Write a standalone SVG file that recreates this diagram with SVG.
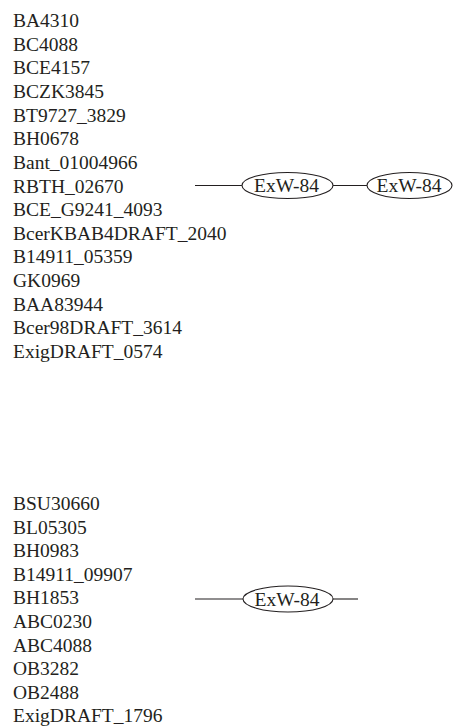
<svg xmlns="http://www.w3.org/2000/svg" width="453" height="728" viewBox="0 0 453 728">
<style>
.t{font-family:"Liberation Serif","Times New Roman",serif;font-size:19.5px;fill:#231f20}
.n{fill:#fff;stroke:#231f20;stroke-width:1.1}
.c{stroke:#231f20;stroke-width:1.1;fill:none}
.l{font-family:"Liberation Serif","Times New Roman",serif;font-size:19.5px;fill:#231f20;text-anchor:middle}
</style>
<rect width="453" height="728" fill="#fff"/>
<g id="list1">
<text class="t" x="13" y="27">BA4310</text>
<text class="t" x="13" y="50.6">BC4088</text>
<text class="t" x="13" y="74.3">BCE4157</text>
<text class="t" x="13" y="97.9">BCZK3845</text>
<text class="t" x="13" y="121.6">BT9727_3829</text>
<text class="t" x="13" y="145.2">BH0678</text>
<text class="t" x="13" y="168.8">Bant_01004966</text>
<text class="t" x="13" y="192.5">RBTH_02670</text>
<text class="t" x="13" y="216.1">BCE_G9241_4093</text>
<text class="t" x="13" y="239.8">BcerKBAB4DRAFT_2040</text>
<text class="t" x="13" y="263.4">B14911_05359</text>
<text class="t" x="13" y="287">GK0969</text>
<text class="t" x="13" y="310.7">BAA83944</text>
<text class="t" x="13" y="334.3">Bcer98DRAFT_3614</text>
<text class="t" x="13" y="358">ExigDRAFT_0574</text>
</g>
<g id="list2">
<text class="t" x="13" y="510">BSU30660</text>
<text class="t" x="13" y="533.6">BL05305</text>
<text class="t" x="13" y="557.2">BH0983</text>
<text class="t" x="13" y="580.8">B14911_09907</text>
<text class="t" x="13" y="604.4">BH1853</text>
<text class="t" x="13" y="628">ABC0230</text>
<text class="t" x="13" y="651.6">ABC4088</text>
<text class="t" x="13" y="675.2">OB3282</text>
<text class="t" x="13" y="698.8">OB2488</text>
<text class="t" x="13" y="722.4">ExigDRAFT_1796</text>
</g>
<g id="connectors">
<line class="c" x1="195" y1="185.5" x2="242" y2="185.5"/>
<line class="c" x1="333" y1="185.5" x2="367" y2="185.5"/>
<line class="c" x1="195" y1="599" x2="243" y2="599"/>
<line class="c" x1="333" y1="599" x2="358" y2="599"/>
</g>
<g id="node1">
<ellipse class="n" cx="287.5" cy="185.5" rx="45.5" ry="13"/>
<text class="l" x="286.5" y="192.3">ExW-84</text>
</g>
<g id="node2">
<ellipse class="n" cx="409.5" cy="185.5" rx="42.5" ry="13"/>
<text class="l" x="409" y="192.3">ExW-84</text>
</g>
<g id="node3">
<ellipse class="n" cx="288" cy="599" rx="45" ry="13"/>
<text class="l" x="287" y="605.8">ExW-84</text>
</g>
</svg>
